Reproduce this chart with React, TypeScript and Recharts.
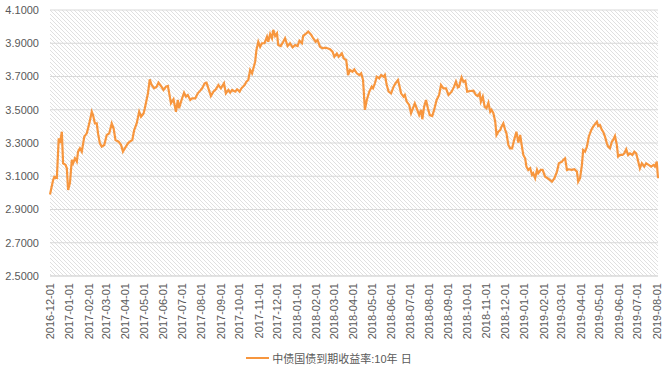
import { LineChart, Line, XAxis, YAxis, CartesianGrid, Legend } from 'recharts';

const START = Date.UTC(2016, 11, 1);
const DAY = 86400000;
const COLOR = '#f7963e';
const FONT = '"Liberation Sans", Arial, "Noto Sans CJK SC", sans-serif';

const SERIES_NAME = '中债国债到期收益率:10年 日';

// days after 2016-12-01
const days = [
  0, 5, 7, 11, 14, 16, 19, 21, 25, 27, 29, 32, 35, 37, 40, 43, 45, 48, 51, 55,
  59, 63, 67, 69, 72, 75, 77, 80, 83, 87, 91, 95, 99, 102, 105, 110, 114, 117, 120, 125,
  128, 132, 135, 139, 143, 146, 150, 152, 157, 160,
  163, 167, 171, 174, 178, 182, 186, 189, 191, 194, 198, 202, 205, 207, 211, 215, 218, 221, 225, 228,
  233, 237, 241, 244, 248, 251, 254, 258, 262, 266, 270, 274, 279, 282, 286, 289, 292, 297, 300, 304,
  307, 312, 315, 318,
  321, 324, 329, 331, 334, 337, 340, 344, 348, 350, 353, 356, 358, 361, 364, 366, 370, 374, 377, 381,
  385, 389, 393, 397, 400, 404, 406, 410, 414, 419, 422, 426, 429, 433, 437, 441, 445, 449, 453, 456,
  460, 463, 468, 471, 475, 478,
  481, 485, 488, 492, 496, 499, 502, 505, 508, 512, 516, 518, 521, 524, 528, 531, 535, 537, 540, 543,
  547, 551, 554, 558, 560, 563, 567, 569, 572, 576, 579, 583, 585, 588, 592, 595, 597, 600, 603, 606,
  609, 613, 616, 620, 624, 627, 631, 635, 639,
  644, 648, 651, 654, 656, 660, 663, 666, 669, 674, 679, 683, 686, 689, 691, 694, 697, 700, 703, 706,
  708, 711, 714, 716, 719, 722, 724, 727, 730, 732, 735, 738, 741, 745, 748, 751, 754, 756, 759, 762,
  764, 767, 770, 773, 775, 778, 781, 783, 787, 790, 794, 798, 802,
  805, 809, 813, 816, 821, 823, 826, 829, 832, 837, 841, 845, 847, 850, 853, 855, 858, 861, 864, 868,
  871, 874, 877, 879, 882, 885, 887, 890, 893, 895, 898, 901, 903, 906, 909, 911, 914, 918, 921, 924,
  927, 930, 934, 937, 940, 944, 946, 949, 953, 956, 960, 964, 968, 970, 973, 975,
];

const yields = [
  2.99, 3.077, 3.097, 3.09, 3.328, 3.3, 3.368, 3.178, 3.168, 3.148, 3.017, 3.06, 3.198, 3.178, 3.208, 3.188, 3.248, 3.268, 3.248, 3.338,
  3.358, 3.418, 3.488, 3.468, 3.418, 3.418, 3.358, 3.298, 3.278, 3.288, 3.348, 3.358, 3.418, 3.388, 3.318, 3.308, 3.288, 3.248, 3.268, 3.298,
  3.308, 3.318, 3.378, 3.418, 3.488, 3.458, 3.478, 3.508, 3.598, 3.683,
  3.649, 3.629, 3.639, 3.663, 3.643, 3.619, 3.639, 3.643, 3.603, 3.539, 3.563, 3.488, 3.559, 3.509, 3.559, 3.603, 3.579, 3.589, 3.559, 3.569,
  3.569, 3.599, 3.615, 3.629, 3.659, 3.663, 3.629, 3.583, 3.609, 3.623, 3.649, 3.629, 3.659, 3.599, 3.619, 3.603, 3.619, 3.609, 3.623, 3.609,
  3.629, 3.649, 3.669, 3.679,
  3.739, 3.719, 3.789, 3.859, 3.909, 3.879, 3.9, 3.9, 3.939, 3.909, 3.956, 3.93, 3.98, 3.944, 3.96, 3.889, 3.883, 3.909, 3.93, 3.883,
  3.9, 3.876, 3.889, 3.883, 3.915, 3.9, 3.944, 3.956, 3.97, 3.95, 3.93, 3.909, 3.92, 3.879, 3.87, 3.873, 3.87, 3.864, 3.849, 3.819,
  3.839, 3.819, 3.839, 3.809, 3.799, 3.709,
  3.739, 3.729, 3.743, 3.719, 3.709, 3.719, 3.679, 3.499, 3.559, 3.609, 3.639, 3.629, 3.659, 3.699, 3.689, 3.709, 3.699, 3.709, 3.649, 3.609,
  3.599, 3.639, 3.659, 3.679, 3.649, 3.599, 3.579, 3.589, 3.549, 3.529, 3.479, 3.519, 3.539, 3.509, 3.468, 3.499, 3.443, 3.519, 3.559, 3.509,
  3.468, 3.462, 3.499, 3.559, 3.589, 3.649, 3.629, 3.629, 3.589,
  3.609, 3.639, 3.669, 3.635, 3.639, 3.695, 3.669, 3.675, 3.609, 3.613, 3.615, 3.589, 3.583, 3.599, 3.549, 3.579, 3.519, 3.509, 3.542, 3.488,
  3.499, 3.479, 3.428, 3.348, 3.368, 3.378, 3.398, 3.418, 3.378, 3.358, 3.288, 3.268, 3.268, 3.328, 3.368, 3.302, 3.348, 3.298, 3.228, 3.208,
  3.158, 3.138, 3.148, 3.108, 3.118, 3.088, 3.138, 3.118, 3.138, 3.138, 3.097, 3.088, 3.077,
  3.067, 3.088, 3.128, 3.178, 3.188, 3.198, 3.208, 3.138, 3.142, 3.138, 3.142, 3.128, 3.067, 3.088, 3.168, 3.258, 3.248, 3.278, 3.338, 3.378,
  3.398, 3.414, 3.428, 3.402, 3.408, 3.378, 3.368, 3.338, 3.298, 3.278, 3.268, 3.308, 3.318, 3.342, 3.288, 3.218, 3.228, 3.228, 3.238, 3.262,
  3.228, 3.238, 3.228, 3.248, 3.238, 3.178, 3.148, 3.178, 3.158, 3.178, 3.168, 3.158, 3.168, 3.158, 3.188, 3.088,
];

const monthTicks = [
  '2016-12-01', '2017-01-01', '2017-02-01', '2017-03-01', '2017-04-01', '2017-05-01', '2017-06-01',
  '2017-07-01', '2017-08-01', '2017-09-01', '2017-10-01', '2017-11-01', '2017-12-01', '2018-01-01',
  '2018-02-01', '2018-03-01', '2018-04-01', '2018-05-01', '2018-06-01', '2018-07-01', '2018-08-01',
  '2018-09-01', '2018-10-01', '2018-11-01', '2018-12-01', '2019-01-01', '2019-02-01', '2019-03-01',
  '2019-04-01', '2019-05-01', '2019-06-01', '2019-07-01', '2019-08-01',
];

const yTicks = [2.5, 2.7, 2.9, 3.1, 3.3, 3.5, 3.7, 3.9, 4.1];

const data = days.map((d, i) => ({ t: START + d * DAY, v: yields[i] }));
const xTicks = monthTicks.map((s) => Date.parse(s));

const fmtDate = (t: number) => new Date(t).toISOString().slice(0, 10);

function DateTick({ x, y, payload }: any) {
  return (
    <text
      x={0}
      y={0}
      transform={`translate(${x},${y}) rotate(-90)`}
      textAnchor="end"
      dy="0.35em"
      fill="#595959"
      fontSize={11}
      fontFamily={FONT}
    >
      {fmtDate(payload.value)}
    </text>
  );
}

function LegendContent() {
  return (
    <div
      style={{
        display: 'flex',
        justifyContent: 'center',
        alignItems: 'center',
        height: 20,
        fontSize: 11,
        color: '#595959',
        fontFamily: FONT,
      }}
    >
      <svg width={23} height={10}>
        <line x1={0} y1={5} x2={23} y2={5} stroke={COLOR} strokeWidth={2} />
      </svg>
      <span style={{ marginLeft: 3 }}>{SERIES_NAME}</span>
    </div>
  );
}

export default function App() {
  return (
    <div style={{ width: 664, height: 369, fontFamily: FONT, background: '#fff' }}>
      <style>{'body{margin:0}'}</style>
      <LineChart width={664} height={369} data={data} margin={{ top: 10, right: 6, left: 0, bottom: 1 }}>
        <defs>
          <pattern id="hatch" width="4" height="4" patternUnits="userSpaceOnUse">
            <rect width="4" height="4" fill="#ffffff" />
            <path d="M-1,-1 L5,5 M3,-1 L5,1 M-1,3 L1,5" stroke="#dddddd" strokeWidth={0.9} />
          </pattern>
        </defs>
        <CartesianGrid vertical={false} stroke="#d9d9d9" fill="url(#hatch)" />
        <XAxis
          dataKey="t"
          type="number"
          scale="linear"
          domain={['dataMin', 'dataMax']}
          ticks={xTicks}
          interval={0}
          tick={<DateTick />}
          tickLine={false}
          tickMargin={1}
          axisLine={{ stroke: '#d9d9d9' }}
          height={72}
        />
        <YAxis
          domain={[2.5, 4.1]}
          ticks={yTicks}
          interval={0}
          width={50}
          tickLine={false}
          axisLine={false}
          tickMargin={5}
          tick={{ fill: '#595959', fontSize: 11, fontFamily: FONT }}
          tickFormatter={(v: number) => v.toFixed(4)}
        />
        <Legend verticalAlign="bottom" height={20} content={<LegendContent />} />
        <Line
          type="linear"
          dataKey="v"
          name={SERIES_NAME}
          stroke={COLOR}
          strokeWidth={2.2}
          dot={false}
          isAnimationActive={false}
        />
      </LineChart>
    </div>
  );
}
